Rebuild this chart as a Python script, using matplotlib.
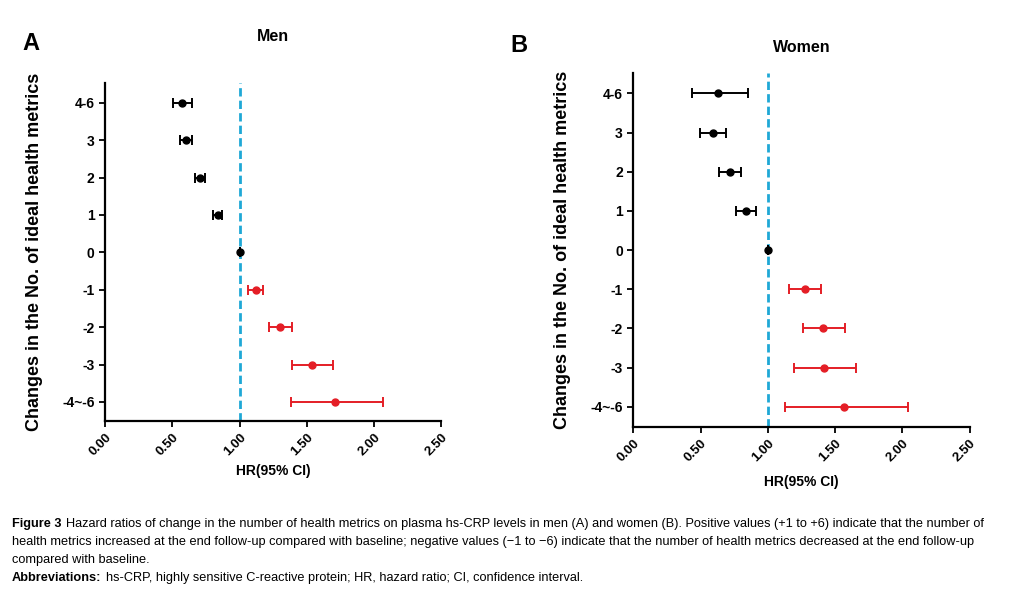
import numpy as np
import matplotlib.pyplot as plt

plt.rcParams['font.family'] = ['Liberation Sans', 'DejaVu Sans']

labels = ['4-6', '3', '2', '1', '0', '-1', '-2', '-3', '-4~-6']

men_hr = [0.574, 0.604, 0.703, 0.837, 1.0, 1.119, 1.302, 1.537, 1.713]
men_lo = [0.505, 0.559, 0.671, 0.802, 1.0, 1.059, 1.218, 1.391, 1.381]
men_hi = [0.646, 0.646, 0.745, 0.871, 1.0, 1.176, 1.386, 1.693, 2.067]

women_hr = [0.632, 0.592, 0.716, 0.837, 1.0, 1.274, 1.412, 1.417, 1.566]
women_lo = [0.439, 0.498, 0.639, 0.761, 1.0, 1.160, 1.261, 1.197, 1.130]
women_hi = [0.850, 0.691, 0.800, 0.912, 1.0, 1.395, 1.573, 1.653, 2.044]

xticks = [0.0, 0.5, 1.0, 1.5, 2.0, 2.5]
red = '#e41e26'
blue = '#1fa8d6'

fig = plt.figure(figsize=(10.10, 6.01), dpi=100)


def forest(ax, hr, lo, hi, title, title_y, xlab_pad, ylab_pad):
    hr = np.array(hr)
    lo = np.array(lo)
    hi = np.array(hi)
    y = np.arange(len(labels))[::-1]
    for i in range(len(labels)):
        c = 'black' if hr[i] <= 1.0 else red
        ax.errorbar(hr[i], y[i], xerr=[[hr[i] - lo[i]], [hi[i] - hr[i]]],
                    fmt='o', color=c, ms=5, capsize=3.5, elinewidth=1.4,
                    capthick=1.4)
    ax.axvline(1.0, color=blue, ls=(0, (3, 1.5)), lw=2, zorder=0)
    ax.set_xlim(0, 2.5)
    ax.set_ylim(-0.51, len(labels) - 0.47)
    ax.set_yticks(y)
    ax.set_yticklabels(labels, fontsize=10, fontweight='bold')
    ax.set_xticks(xticks)
    ax.set_xticklabels(['%.2f' % v for v in xticks], rotation=45,
                       fontsize=9.5, fontweight='bold', ha='right',
                       rotation_mode='anchor', va='top')
    ax.spines['top'].set_visible(False)
    ax.spines['right'].set_visible(False)
    ax.spines['left'].set_linewidth(1.6)
    ax.spines['bottom'].set_linewidth(1.6)
    ax.tick_params(width=1.3, length=4)
    ax.set_xlabel('HR(95% CI)', fontsize=10, fontweight='bold', labelpad=xlab_pad)
    ax.set_ylabel('Changes in the No. of ideal health metrics', fontsize=13,
                  fontweight='bold', labelpad=ylab_pad)
    ax.set_title(title, fontsize=11.5, fontweight='bold', y=title_y)


ax1 = fig.add_axes([0.104, 0.2995, 0.333, 0.5625])
forest(ax1, men_hr, men_lo, men_hi, 'Men', 1.1, 4, 14)
ax2 = fig.add_axes([0.627, 0.290, 0.333, 0.589])
forest(ax2, women_hr, women_lo, women_hi, 'Women', 1.035, 8, 14)

fig.text(0.022, 0.927, 'A', fontsize=17, fontweight='bold', va='center')
fig.text(0.505, 0.925, 'B', fontsize=17, fontweight='bold', va='center')

cap_lines = [
    'Hazard ratios of change in the number of health metrics on plasma hs-CRP levels in men (A) and women (B). Positive values (+1 to +6) indicate that the number of',
    'health metrics increased at the end follow-up compared with baseline; negative values (\u22121 to \u22126) indicate that the number of health metrics decreased at the end follow-up',
    'compared with baseline.',
]
abbr = 'hs-CRP, highly sensitive C-reactive protein; HR, hazard ratio; CI, confidence interval.'
ys = [524, 542, 560, 578]
cap_fs = 9.2
renderer = fig.canvas.get_renderer()


def bold_lead(x, y, lead, rest):
    t = fig.text(x, y, lead, fontsize=cap_fs, fontweight='bold', va='center')
    w = t.get_window_extent(renderer=renderer).width / fig.bbox.width
    fig.text(x + w + 0.004, y, rest, fontsize=cap_fs, va='center')


bold_lead(0.012, 1 - ys[0] / 601, 'Figure 3', cap_lines[0])
fig.text(0.012, 1 - ys[1] / 601, cap_lines[1], fontsize=cap_fs, va='center')
fig.text(0.012, 1 - ys[2] / 601, cap_lines[2], fontsize=cap_fs, va='center')
bold_lead(0.012, 1 - ys[3] / 601, 'Abbreviations:', abbr)

fig.savefig('out.png', dpi=100)
